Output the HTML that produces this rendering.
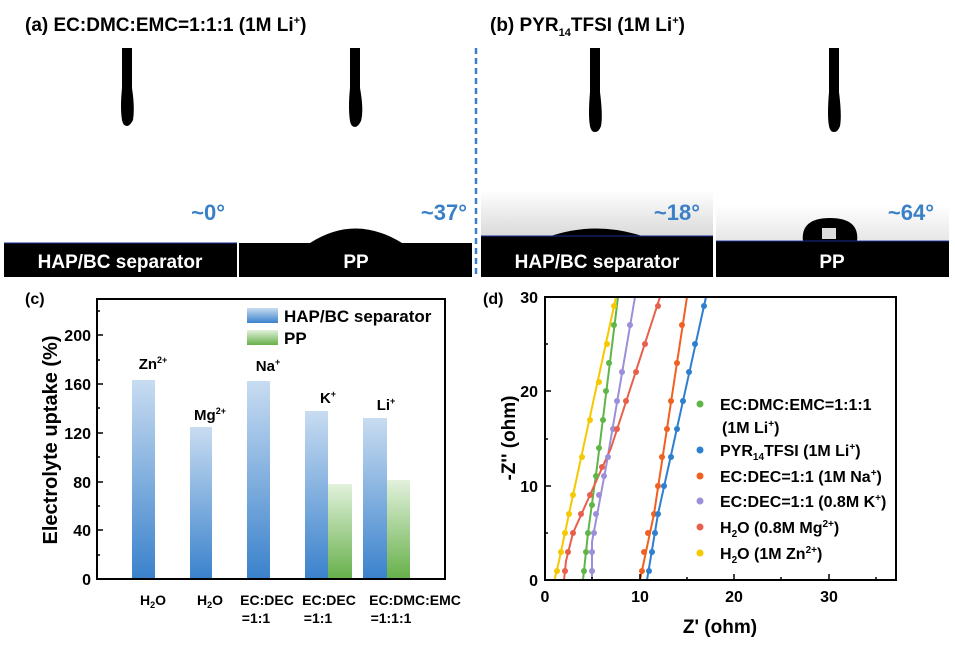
<!DOCTYPE html>
<html><head><meta charset="utf-8"><style>
body{margin:0;background:#fff;}
svg{display:block;font-family:"Liberation Sans",Arial,sans-serif;font-weight:bold;}
</style></head><body>
<svg width="955" height="647" viewBox="0 0 955 647" xmlns="http://www.w3.org/2000/svg">
<defs>
<linearGradient id="gb" x1="0" y1="0" x2="0" y2="1"><stop offset="0" stop-color="#c8dcf1"/><stop offset="1" stop-color="#3a82cc"/></linearGradient>
<linearGradient id="gg" x1="0" y1="0" x2="0" y2="1"><stop offset="0" stop-color="#e2f1dc"/><stop offset="1" stop-color="#66b04a"/></linearGradient>
<linearGradient id="gl" x1="0" y1="0" x2="0" y2="1"><stop offset="0" stop-color="#c8dcf1"/><stop offset="1" stop-color="#3a82cc"/></linearGradient>
<linearGradient id="gray" x1="0" y1="0" x2="0" y2="1"><stop offset="0" stop-color="#fff"/><stop offset="1" stop-color="#d8d8d8"/></linearGradient>
</defs>
<!-- titles -->
<text x="25" y="31" font-size="19">(a)  EC:DMC:EMC=1:1:1 (1M Li<tspan font-size="11" dy="-7">+</tspan><tspan dy="7">)</tspan></text>
<text x="490" y="31" font-size="19">(b)  PYR<tspan font-size="11" dy="5">14</tspan><tspan dy="-5">TFSI (1M Li</tspan><tspan font-size="11" dy="-7">+</tspan><tspan dy="7">)</tspan></text>
<!-- photo panels -->
<rect x="481" y="190" width="232" height="48" fill="url(#gray)"/>
<rect x="716" y="205" width="233" height="35" fill="url(#gray)" opacity="0.6"/>
<!-- needles -->
<g fill="#000">
<path d="M122 48h10v40q3 20 1 32q-3 6-6 6q-4 0-5-6q-2-12 0-32z"/>
<path d="M350 48h10v40q4 22 1 33q-3 6-6 6q-4 0-5-6q-2-13 0-33z"/>
<path d="M590 48h10v44q3 24 1 34q-2 6-6 6q-4 0-5-6q-2-10 0-34z"/>
<path d="M829 48h10v44q3 24 1 34q-2 6-6 6q-4 0-5-6q-2-10 0-34z"/>
</g>
<!-- substrates -->
<rect x="4" y="243" width="233" height="34" fill="#000"/>
<rect x="239" y="243" width="233" height="34" fill="#000"/>
<rect x="481" y="236" width="232" height="41" fill="#000"/>
<rect x="716" y="241" width="233" height="36" fill="#000"/>
<path d="M310 243 Q355 214 402 243Z" fill="#000"/>
<path d="M548 237 Q596 220 645 237Z" fill="#000"/>
<path d="M803 242 Q800 218 830 218 Q860 218 857 242Z" fill="#000"/>
<rect x="822" y="228" width="14" height="11" fill="#ddd"/>
<line x1="4" y1="243" x2="237" y2="243" stroke="#1a2a9a" stroke-width="1"/>
<line x1="481" y1="236" x2="713" y2="236" stroke="#1a2a9a" stroke-width="1"/>
<line x1="716" y1="241" x2="949" y2="241" stroke="#1a2a9a" stroke-width="1"/>
<line x1="476" y1="48" x2="476" y2="277" stroke="#3a80c8" stroke-width="2.5" stroke-dasharray="6,4"/>
<g fill="#fff" font-size="19" text-anchor="middle">
<text x="120" y="268">HAP/BC separator</text><text x="356" y="268">PP</text>
<text x="597" y="268">HAP/BC separator</text><text x="832" y="268">PP</text>
</g>
<g fill="#3a80c8" font-size="22" text-anchor="end">
<text x="225" y="220">~0°</text><text x="467" y="220">~37°</text>
<text x="700" y="220">~18°</text><text x="934" y="220">~64°</text>
</g>

<!-- (c) bar chart -->
<text x="25" y="304" font-size="16">(c)</text>
<rect x="132" y="380" width="23" height="199" fill="url(#gb)"/>
<rect x="190" y="427" width="22" height="152" fill="url(#gb)"/>
<rect x="247" y="381" width="23" height="198" fill="url(#gb)"/>
<rect x="305" y="411" width="23" height="168" fill="url(#gb)"/>
<rect x="328" y="484" width="24" height="95" fill="url(#gg)"/>
<rect x="363" y="418" width="24" height="161" fill="url(#gb)"/>
<rect x="387" y="480" width="23" height="99" fill="url(#gg)"/>
<rect x="97" y="299" width="348" height="280" fill="none" stroke="#000" stroke-width="2"/>
<g stroke="#000" stroke-width="1.5">
<line x1="97" y1="579" x2="103" y2="579"/><line x1="97" y1="530" x2="103" y2="530"/><line x1="97" y1="482" x2="103" y2="482"/><line x1="97" y1="433" x2="103" y2="433"/><line x1="97" y1="384" x2="103" y2="384"/><line x1="97" y1="335" x2="103" y2="335"/>
<line x1="97" y1="555" x2="100" y2="555"/><line x1="97" y1="506" x2="100" y2="506"/><line x1="97" y1="457" x2="100" y2="457"/><line x1="97" y1="408" x2="100" y2="408"/><line x1="97" y1="360" x2="100" y2="360"/><line x1="97" y1="311" x2="100" y2="311"/>
</g>
<g font-size="16" text-anchor="end">
<text x="91" y="585">0</text><text x="91" y="536">40</text><text x="91" y="488">80</text><text x="91" y="439">120</text><text x="91" y="390">160</text><text x="91" y="341">200</text>
</g>
<text transform="translate(57,440) rotate(-90)" font-size="20" text-anchor="middle">Electrolyte uptake (%)</text>
<rect x="247" y="308" width="31" height="15" fill="url(#gl)"/>
<rect x="247" y="330" width="31" height="15" fill="url(#gg)"/>
<text x="284" y="322" font-size="17">HAP/BC separator</text>
<text x="284" y="344" font-size="17">PP</text>
<g font-size="15" text-anchor="middle">
<text x="153" y="369">Zn<tspan font-size="9" dy="-6">2+</tspan></text>
<text x="210" y="420">Mg<tspan font-size="9" dy="-6">2+</tspan></text>
<text x="268" y="371">Na<tspan font-size="9" dy="-6">+</tspan></text>
<text x="328" y="403">K<tspan font-size="9" dy="-6">+</tspan></text>
<text x="386" y="410">Li<tspan font-size="9" dy="-6">+</tspan></text>
</g>
<g font-size="14" text-anchor="middle">
<text x="153" y="605">H<tspan font-size="9" dy="3">2</tspan><tspan dy="-3">O</tspan></text>
<text x="210" y="605">H<tspan font-size="9" dy="3">2</tspan><tspan dy="-3">O</tspan></text>
<text x="267" y="605">EC:DEC</text><text x="256" y="623">=1:1</text>
<text x="329" y="605">EC:DEC</text><text x="318" y="623">=1:1</text>
<text x="415" y="605">EC:DMC:EMC</text><text x="391" y="623">=1:1:1</text>
</g>

<!-- (d) Nyquist -->
<text x="483" y="304" font-size="16">(d)</text>
<g fill="none" stroke-width="2">
<polyline stroke="#f5c800" points="554.5,580 559,561 573,495 616,297"/>
<polyline stroke="#5fb548" points="583,580 588,533 597,467 618,297"/>
<polyline stroke="#9a8fd8" points="592,580 592,542 606,467 635,297"/>
<polyline stroke="#e8604c" points="564,580 566,561 573,533 611,448 660,297"/>
<polyline stroke="#f06020" points="640,580 654,514 687,297"/>
<polyline stroke="#2f7fcf" points="647,580 658,514 706,297"/>
</g>
<g>
<g fill="#f5c800"><circle cx="557" cy="571" r="3"/><circle cx="561" cy="552" r="3"/><circle cx="565" cy="533" r="3"/><circle cx="569" cy="514" r="3"/><circle cx="573" cy="495" r="3"/><circle cx="582" cy="457" r="3"/><circle cx="590" cy="420" r="3"/><circle cx="599" cy="382" r="3"/><circle cx="607" cy="344" r="3"/><circle cx="614" cy="306" r="3"/></g>
<g fill="#5fb548"><circle cx="584" cy="571" r="3"/><circle cx="586" cy="552" r="3"/><circle cx="588" cy="533" r="3"/><circle cx="592" cy="505" r="3"/><circle cx="596" cy="476" r="3"/><circle cx="599" cy="448" r="3"/><circle cx="603" cy="420" r="3"/><circle cx="606" cy="391" r="3"/><circle cx="609" cy="363" r="3"/><circle cx="614" cy="325" r="3"/></g>
<g fill="#9a8fd8"><circle cx="592" cy="571" r="3"/><circle cx="592" cy="552" r="3"/><circle cx="594" cy="533" r="3"/><circle cx="596" cy="514" r="3"/><circle cx="599" cy="495" r="3"/><circle cx="604" cy="476" r="3"/><circle cx="608" cy="457" r="3"/><circle cx="613" cy="429" r="3"/><circle cx="617" cy="401" r="3"/><circle cx="622" cy="372" r="3"/><circle cx="630" cy="325" r="3"/></g>
<g fill="#e8604c"><circle cx="565" cy="571" r="3"/><circle cx="568" cy="552" r="3"/><circle cx="573" cy="533" r="3"/><circle cx="581" cy="514" r="3"/><circle cx="590" cy="495" r="3"/><circle cx="602" cy="467" r="3"/><circle cx="617" cy="429" r="3"/><circle cx="626" cy="401" r="3"/><circle cx="636" cy="372" r="3"/><circle cx="645" cy="344" r="3"/><circle cx="658" cy="306" r="3"/></g>
<g fill="#f06020"><circle cx="642" cy="571" r="3"/><circle cx="644" cy="552" r="3"/><circle cx="648" cy="533" r="3"/><circle cx="654" cy="514" r="3"/><circle cx="658" cy="486" r="3"/><circle cx="662" cy="457" r="3"/><circle cx="667" cy="429" r="3"/><circle cx="671" cy="401" r="3"/><circle cx="677" cy="363" r="3"/><circle cx="682" cy="325" r="3"/></g>
<g fill="#2f7fcf"><circle cx="649" cy="571" r="3"/><circle cx="652" cy="552" r="3"/><circle cx="655" cy="533" r="3"/><circle cx="658" cy="514" r="3"/><circle cx="664" cy="486" r="3"/><circle cx="671" cy="457" r="3"/><circle cx="677" cy="429" r="3"/><circle cx="683" cy="401" r="3"/><circle cx="689" cy="372" r="3"/><circle cx="695" cy="344" r="3"/><circle cx="704" cy="306" r="3"/></g>
</g>
<rect x="545" y="297" width="351" height="283" fill="none" stroke="#000" stroke-width="2"/>
<g stroke="#000" stroke-width="1.5">
<line x1="545" y1="580" x2="551" y2="580"/><line x1="545" y1="486" x2="551" y2="486"/><line x1="545" y1="391" x2="551" y2="391"/><line x1="545" y1="297" x2="551" y2="297"/>
<line x1="545" y1="533" x2="548" y2="533"/><line x1="545" y1="439" x2="548" y2="439"/><line x1="545" y1="344" x2="548" y2="344"/>
<line x1="640" y1="580" x2="640" y2="574"/><line x1="734" y1="580" x2="734" y2="574"/><line x1="829" y1="580" x2="829" y2="574"/>
<line x1="592" y1="580" x2="592" y2="577"/><line x1="687" y1="580" x2="687" y2="577"/><line x1="781" y1="580" x2="781" y2="577"/><line x1="876" y1="580" x2="876" y2="577"/>
</g>
<g font-size="16" text-anchor="end">
<text x="538" y="586">0</text><text x="538" y="492">10</text><text x="538" y="397">20</text><text x="538" y="303">30</text>
</g>
<g font-size="16" text-anchor="middle">
<text x="545" y="602">0</text><text x="640" y="602">10</text><text x="734" y="602">20</text><text x="829" y="602">30</text>
</g>
<text x="720" y="633" font-size="19" text-anchor="middle">Z' (ohm)</text>
<text transform="translate(515,438) rotate(-90)" font-size="19" text-anchor="middle">-Z'' (ohm)</text>
<g>
<circle cx="700" cy="404" r="3.5" fill="#5fb548"/><circle cx="700" cy="450" r="3.5" fill="#2f7fcf"/><circle cx="700" cy="476" r="3.5" fill="#f06020"/><circle cx="700" cy="501" r="3.5" fill="#9a8fd8"/><circle cx="700" cy="527" r="3.5" fill="#e8604c"/><circle cx="700" cy="553" r="3.5" fill="#f5c800"/>
</g>
<g font-size="16">
<text x="720" y="410">EC:DMC:EMC=1:1:1</text>
<text x="722" y="433">(1M Li<tspan font-size="10" dy="-6">+</tspan><tspan dy="6">)</tspan></text>
<text x="720" y="456">PYR<tspan font-size="10" dy="4">14</tspan><tspan dy="-4">TFSI (1M Li</tspan><tspan font-size="10" dy="-6">+</tspan><tspan dy="6">)</tspan></text>
<text x="720" y="482">EC:DEC=1:1 (1M Na<tspan font-size="10" dy="-6">+</tspan><tspan dy="6">)</tspan></text>
<text x="720" y="507">EC:DEC=1:1 (0.8M K<tspan font-size="10" dy="-6">+</tspan><tspan dy="6">)</tspan></text>
<text x="720" y="533">H<tspan font-size="10" dy="4">2</tspan><tspan dy="-4">O (0.8M Mg</tspan><tspan font-size="10" dy="-6">2+</tspan><tspan dy="6">)</tspan></text>
<text x="720" y="559">H<tspan font-size="10" dy="4">2</tspan><tspan dy="-4">O (1M Zn</tspan><tspan font-size="10" dy="-6">2+</tspan><tspan dy="6">)</tspan></text>
</g>
</svg>
</body></html>
